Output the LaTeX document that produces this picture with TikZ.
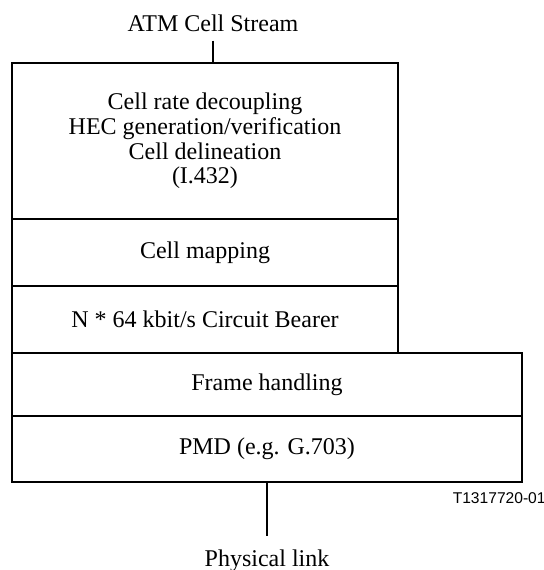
\documentclass[tikz,border=0pt]{standalone}
\usepackage{fontspec}
\setmainfont{Liberation Serif}
\newfontfamily\figsans{Liberation Sans}
\usepackage{tikz}
\usetikzlibrary{positioning}
\tikzset{
    layer-box/.style = {draw, thin, line width=0.6pt, rectangle, inner sep=0pt, outer sep=0pt, align=center, font=\fontsize{12}{12.3}\selectfont},
    upper-layer/.style = {layer-box, minimum width=193pt},
    lower-layer/.style = {layer-box, minimum width=255pt},
    end-label/.style = {font=\fontsize{12}{14}\selectfont, inner xsep=0pt},
}

\begin{document}
\begin{tikzpicture}[x=0.5pt, y=-0.5pt]
\useasboundingbox (0,0) rectangle (544,570);
\node [upper-layer, minimum height=78pt, anchor=north west] (decoupling) at (12,63) {Cell rate decoupling\\HEC generation/verification\\Cell delineation\\(I.432)};
\node [upper-layer, minimum height=33.5pt, below=0pt of decoupling] (mapping) {Cell mapping};
\node [upper-layer, minimum height=33.5pt, below=0pt of mapping] (bearer) {N * 64 kbit/s Circuit Bearer};
\node [lower-layer, minimum height=31.5pt, anchor=north west] (framing) at (bearer.south west) {Frame handling};
\node [lower-layer, minimum height=33pt, below=0pt of framing] (pmd) {PMD (e.g. G.703)};
\node [end-label, inner ysep=4.5pt, anchor=base] (atm) at (213,31) {ATM Cell Stream};
\node [end-label, inner ysep=6.3pt, anchor=base] (link) at (pmd.south |- 0,566) {Physical link};
\draw [line width=0.6pt] (atm.south) -- (atm.south |- decoupling.north);
\draw [line width=0.6pt] (pmd.south) -- (link.north);
\node [font=\figsans\fontsize{7.8}{9}\selectfont, inner sep=0pt, anchor=east] (figref) at (546,498) {T1317720-01};
\end{tikzpicture}
\end{document}
